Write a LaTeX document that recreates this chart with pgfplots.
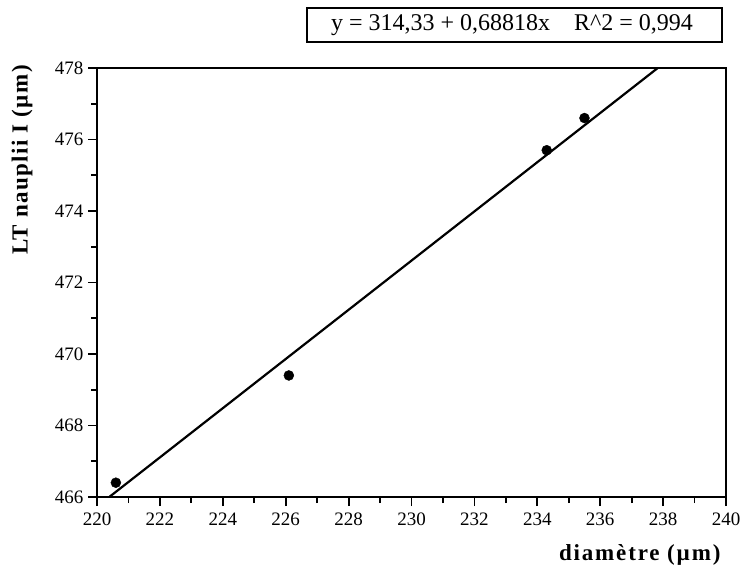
\documentclass[border=0pt]{standalone}
\usepackage{fontspec}
\setmainfont{Liberation Serif}
\usepackage{pgfplots}
\pgfplotsset{compat=1.18}
\begin{document}
\begin{tikzpicture}[x=1pt,y=1pt]
\useasboundingbox (0,0) rectangle (741,576);
\begin{axis}[
  at={(97pt,79pt)}, anchor=origin,
  scale only axis, width=629pt, height=429pt,
  xmin=220, xmax=240, ymin=466, ymax=478,
  xtick={220,222,...,240}, ytick={466,468,...,478},
  minor x tick num=1, minor y tick num=1,
  axis x line*=bottom, axis y line*=left,
  tick align=outside,
  major tick length=9pt, minor tick length=6pt,
  every tick/.style={black, line width=1.8pt},
  axis line style={line width=2pt},
  /pgf/number format/assume math mode=true,
  /pgf/number format/1000 sep={},
  tick label style={font=\fontsize{19}{22}\selectfont},
  xticklabel style={yshift=-3pt},
  yticklabel style={xshift=-1pt},
  clip=true,
]
\addplot[only marks, mark=*, mark size=5pt, black] coordinates {
  (220.6,466.4) (226.1,469.4) (234.3,475.7) (235.5,476.6)
};
\addplot[black, line width=2.2pt] coordinates {(220.39,466) (237.83,478)};
\end{axis}
\draw[line width=2pt] (97,508) -- (726,508) -- (726,79);
\node[font=\fontsize{23}{26}\selectfont\bfseries\addfontfeature{LetterSpace=6}, rotate=90] at (22,416) {LT nauplii I (µm)};
\node[font=\fontsize{23}{26}\selectfont\bfseries\addfontfeature{LetterSpace=8}, anchor=east] at (724,21) {diamètre (µm)};
\draw[line width=2pt] (307,534) rectangle (722,568);
\node[font=\fontsize{24}{27}\selectfont] at (512,551) {y = 314,33 + 0,68818x\quad R\^{}2 = 0,994};
\end{tikzpicture}
\end{document}
